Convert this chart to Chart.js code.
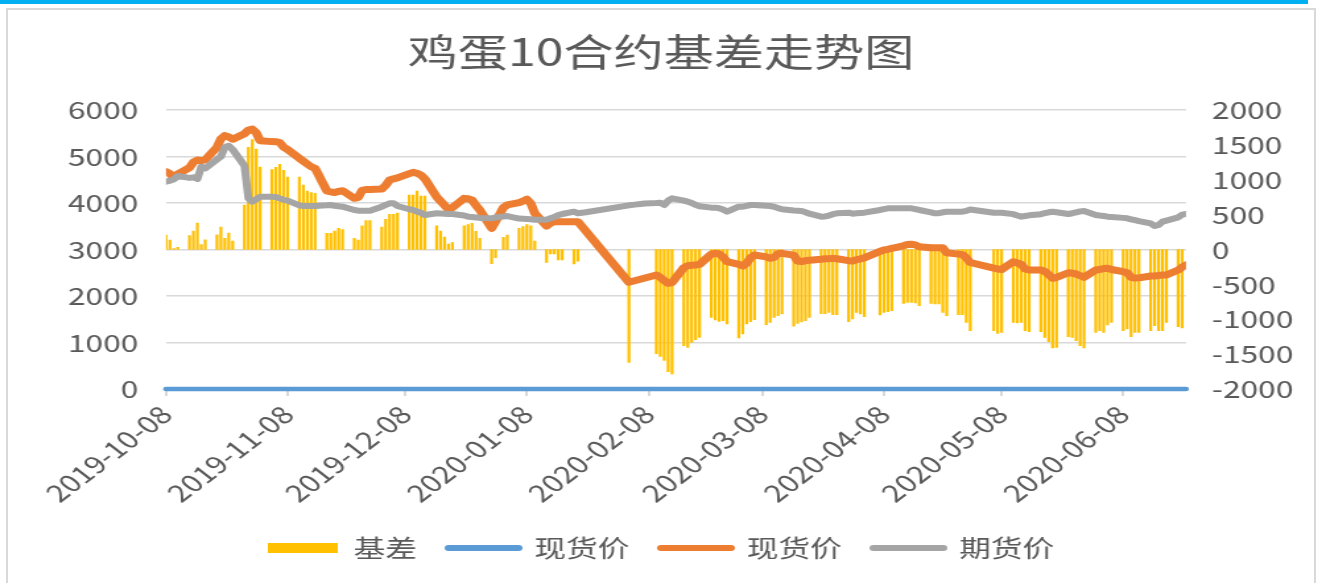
<!DOCTYPE html>
<html>
<head>
<meta charset="utf-8">
<title>鸡蛋10合约基差走势图</title>
<script src="https://cdn.jsdelivr.net/npm/chart.js@4.4.1/dist/chart.umd.min.js"></script>
<style>
  html, body { margin: 0; padding: 0; background: #fff; }
  body { width: 1322px; height: 583px; position: relative; overflow: hidden; }
  .topbar { position: absolute; left: 0; top: 0; width: 1308px; height: 4px; background: #00b0f0; }
  .frame { position: absolute; left: 6px; top: 8px; width: 1310px; height: 600px; border: 2px solid #d9d9d9; box-sizing: border-box; }
  /* the reference picture is stretched sideways, so the chart is drawn narrow and widened */
  .stretch { position: absolute; left: 0; top: 0; width: 1002px; height: 583px; transform: scaleX(1.3194); transform-origin: 0 0; }
</style>
</head>
<body>
<div class="topbar"></div>
<div class="frame"></div>
<div class="stretch"><canvas id="basisChart" width="1002" height="583"></canvas></div>
<script>
// trading calendar
const firstDay = '2019-10-08';
const lastDay = '2020-06-24';
const closedDays = ['2020-01-01', '2020-01-24', '2020-01-27', '2020-01-28', '2020-01-29', '2020-01-30',
  '2020-01-31', '2020-04-06', '2020-05-01', '2020-05-04', '2020-05-05'];
const monthTicks = ['2019-10-08', '2019-11-08', '2019-12-08', '2020-01-08', '2020-02-08',
  '2020-03-08', '2020-04-08', '2020-05-08', '2020-06-08'];

// 现货价 (orange), one value per trading day
const spot = [
  4673, 4630, 4540, 4620, 4760, 4880, 4925, 4910, 4930, 5200, 5380, 5450, 5420, 5370, 5490, 5570, 5590, 5510,
  5340, 5320, 5318, 5300, 5200, 5150, 4960, 4900, 4840, 4780, 4746, 4260, 4240, 4225, 4250, 4265, 4100, 4120, 4270, 4290, 4290,
  4300, 4380, 4495, 4520, 4540, 4630, 4660, 4640, 4600, 4520, 4130, 4040, 3950, 3865, 3900, 4100, 4090, 4065, 3950, 3850, 3456, 3600,
  3900, 3960, 4007, 4040, 4080, 3990, 3780, 3505, 3570, 3598, 3598, 3598, 3598, 3598, null, null,
  2295, null, null, null, null, 2452, 2400, 2330, 2273, 2290, 2610, 2650, 2660, 2665, 2680, 2900, 2918, 2903, 2840, 2738,
  2680, 2645, 2700, 2820, 2882, 2840, 2810, 2830, 2910, 2918, 2880, 2750, 2740, 2760, 2770, 2790, 2800, 2800, 2810, 2800, 2760, 2753,
  2780, 2800, 2820, 2960, 2990, 3004, 3026, 3080, 3110, 3112, 3100, 3060, 3039, 3039, 3039, 3039, 2930, 2900, 2890, 2820, 2720,
  2600, 2580, 2570, 2738, 2710, 2680, 2580, 2560, 2559, 2530, 2460, 2380, 2400, 2500, 2490, 2473, 2440, 2402,
  2559, 2570, 2590, 2595, 2570, 2523, 2500, 2400, 2385, 2390, 2430, 2430, 2440, 2450, 2452, 2559, 2620, 2667
];

// 期货价 (grey)
const futures = [
  4458, 4480, 4509, 4580, 4540, 4552, 4516, 4781, 4746, 4940, 5000, 5200, 5230, 5150, 4800, 4100, 4028, 4080,
  4136, 4136, 4130, 4100, 4070, 4050, 3950, 3935, 3935, 3935, 3935, 3950, 3957, 3940, 3930, 3921, 3850, 3835, 3835, 3835, 3835,
  3921, 3960, 3993, 3993, 3935, 3865, 3850, 3813, 3790, 3742, 3778, 3775, 3770, 3765, 3763, 3730, 3706, 3700, 3690, 3680, 3671, 3690,
  3710, 3720, 3665, 3660, 3656, 3650, 3640, 3640, 3671, 3700, 3740, 3763, 3813, 3778, 3790, 3800,
  3950, 3960, 3970, 3980, 3990, 4000, 4007, 3957, 4050, 4101, 4050, 4028, 4000, 3960, 3930, 3900, 3900, 3886, 3860, 3813,
  3920, 3921, 3940, 3957, 3957, 3940, 3935, 3920, 3890, 3865, 3840, 3835, 3830, 3800, 3770, 3706, 3710, 3730, 3760, 3778, 3792, 3770,
  3778, 3785, 3792, 3850, 3870, 3886, 3886, 3886, 3886, 3886, 3870, 3850, 3800, 3778, 3780, 3800, 3813, 3813, 3813, 3830, 3860,
  3792, 3792, 3792, 3760, 3730, 3706, 3720, 3735, 3760, 3780, 3800, 3813, 3800, 3763, 3780, 3800, 3820, 3828,
  3742, 3730, 3720, 3706, 3700, 3680, 3671, 3650, 3630, 3610, 3560, 3505, 3530, 3598, 3620, 3690, 3750, 3763
];

// 基差 (bars, right axis)
const basis = [
  208, 136, 12, 30, 198, 265, 380, 70, 140, 212, 323, 160, 237, 122, 638, 1466, 1575, 1441,
  1183, 1145, 1178, 1222, 1136, 1040, 1040, 925, 839, 815, 806, 232, 232, 265, 304, 284, 160, 136, 341, 413, 413,
  323, 433, 505, 505, 523, 781, 781, 839, 767, 767, 341, 265, 179, 79, 98, 341, 356, 376, 261, 160, -204, -118,
  175, 208, 304, 327, 356, 341, 122, -184, -65, -65, -151, -151, -208, -169, null, null,
  -1618, null, null, null, null, -1494, -1532, -1589, -1752, -1785, -1380, -1403, -1331, -1293, -1260, -973, -1011, -1030, -1020, -1068,
  -1269, -1212, -1068, -1035, -1006, -1078, -1044, -973, -949, -925, -1101, -1058, -1040, -1020, -973, -920, -920, -901, -935, -935, -1035, -997,
  -901, -925, -963, -939, -901, -892, -877, -772, -758, -758, -767, -806, -772, -781, -781, -901, -949, -935, -935, -1044, -1164,
  -1164, -1202, -1188, -1044, -1054, -1044, -1164, -1178, -1178, -1259, -1322, -1412, -1403, -1250, -1259, -1307, -1379, -1412,
  -1188, -1164, -1188, -1083, -1044, -1164, -1140, -1250, -1188, -1188, -1164, -1092, -1164, -1164, -1044, -1107, -1126, null
];

// the blue 现货价 series sits flat on zero
const blueSpotLevel = 0;

const DAY = 86400000;
const t0 = Date.parse(firstDay);
const fmt = ms => new Date(ms).toISOString().slice(0, 10);
const dayIndex = s => Math.round((Date.parse(s) - t0) / DAY);

const tradeDays = [];
for (let t = t0; t <= Date.parse(lastDay); t += DAY) {
  const wd = new Date(t).getUTCDay();
  if (wd === 0 || wd === 6 || closedDays.includes(fmt(t))) continue;
  tradeDays.push(dayIndex(fmt(t)));
}
if (tradeDays.length !== spot.length) console.warn('length mismatch', tradeDays.length, spot.length);

const toPoints = arr => arr.map((v, i) => ({ x: tradeDays[i], y: v })).filter(p => p.y !== null);

const textColor = '#595959';
const gridColor = '#d9d9d9';
Chart.defaults.font.family = '"Noto Sans CJK SC", "Noto Sans", sans-serif';
Chart.defaults.color = textColor;

new Chart(document.getElementById('basisChart'), {
  data: {
    datasets: [
      {
        type: 'bar', label: '基差', data: toPoints(basis), yAxisID: 'y2',
        backgroundColor: '#FFC000', barThickness: 1.6, order: 4
      },
      {
        type: 'line', label: '现货价', data: tradeDays.map(x => ({ x, y: blueSpotLevel })), yAxisID: 'y',
        borderColor: '#5B9BD5', borderWidth: 4.5, pointRadius: 0, borderCapStyle: 'round', clip: 8, order: 3
      },
      {
        type: 'line', label: '现货价', data: toPoints(spot), yAxisID: 'y', spanGaps: true,
        borderColor: '#ED7D31', borderWidth: 7, pointRadius: 0, borderCapStyle: 'round', borderJoinStyle: 'round', order: 2
      },
      {
        type: 'line', label: '期货价', data: toPoints(futures), yAxisID: 'y', spanGaps: true,
        borderColor: '#A5A5A5', borderWidth: 6, pointRadius: 0, borderCapStyle: 'round', borderJoinStyle: 'round', order: 1
      }
    ]
  },
  options: {
    responsive: false,
    animation: false,
    layout: { padding: { left: 0, right: 0, top: 0, bottom: 13 } },
    plugins: {
      title: {
        display: true, text: '鸡蛋10合约基差走势图', color: textColor,
        font: { size: 38, weight: 'normal' }, padding: { top: 29.2, bottom: 35.2 }
      },
      legend: {
        position: 'bottom',
        labels: {
          usePointStyle: true, pointStyleWidth: 53, boxHeight: 10, padding: 24,
          color: textColor, font: { size: 24 },
          generateLabels: chart => chart.data.datasets.map((ds, i) => ({
            text: ds.label, datasetIndex: i, hidden: false, fontColor: textColor,
            fillStyle: ds.borderColor || ds.backgroundColor,
            strokeStyle: ds.borderColor || ds.backgroundColor,
            lineWidth: ds.type === 'bar' ? 0 : 6, lineCap: 'round',
            pointStyle: ds.type === 'bar' ? 'rect' : 'line'
          }))
        }
      },
      tooltip: { enabled: false }
    },
    scales: {
      x: {
        type: 'linear', min: 0, max: dayIndex(lastDay), offset: false,
        afterBuildTicks: s => { s.ticks = monthTicks.map(d => ({ value: dayIndex(d) })); },
        afterFit: s => { s.height = 123; },
        ticks: {
          autoSkip: false, minRotation: 45, maxRotation: 45, padding: 4, font: { size: 24 },
          callback: v => fmt(t0 + v * DAY)
        },
        grid: { offset: false, drawOnChartArea: false, drawTicks: true, tickLength: 7, color: gridColor, lineWidth: 2 },
        border: { display: false }
      },
      y: {
        position: 'left', min: 0, max: 6000,
        afterFit: s => { s.width = 125.8; },
        ticks: { stepSize: 1000, padding: 21, font: { size: 24 }, callback: v => String(v) },
        grid: { color: gridColor, lineWidth: 1.5, drawTicks: false },
        border: { display: false }
      },
      y2: {
        position: 'right', min: -2000, max: 2000,
        afterFit: s => { s.width = 103.1; },
        ticks: { stepSize: 500, padding: 19.7, font: { size: 24 }, callback: v => String(v) },
        grid: { display: false, drawTicks: false },
        border: { display: false }
      }
    }
  }
});
</script>
</body>
</html>
